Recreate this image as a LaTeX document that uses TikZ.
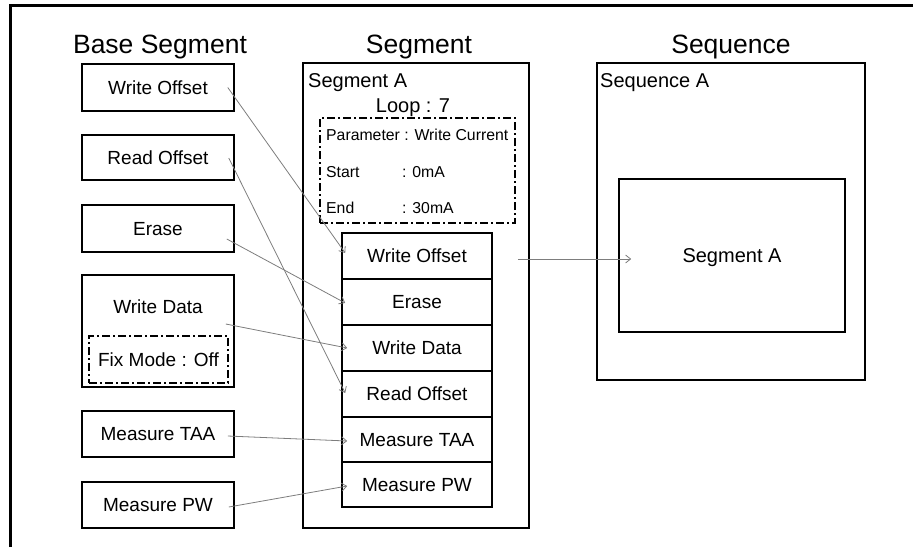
\documentclass[tikz,border=0pt]{standalone}
\usepackage{fontspec}
\setmainfont{Liberation Sans}
\usetikzlibrary{arrows.meta,calc}
\newcommand\fsz[1]{\fontsize{#1}{#1}\selectfont}
\definecolor{arrgray}{RGB}{125,125,125}
\begin{document}
\begin{tikzpicture}[x=1pt,y=-1pt,
  every node/.style={inner sep=0pt,text depth=0pt},
  title/.style={font=\fsz{26.5},text height=19pt},
  box/.style={draw,line width=1.6pt,font=\fsz{19},text height=13.6pt},
  lbl/.style={font=\fsz{19},text height=13.6pt},
  big/.style={font=\fsz{20},text height=14.3pt},
  small/.style={font=\fsz{15.8},text height=11.3pt},
  dd/.style={draw,line width=1.6pt,dash pattern=on 8pt off 3pt on 2pt off 3pt,font=\fsz{19},text height=13.6pt},
  arr/.style={draw=arrgray,line width=0.8pt,-{Straight Barb[length=5pt,width=8pt]}}
]
\useasboundingbox (0,0) rectangle (913,547);
\draw[line width=3pt] (10.5,547) -- (10.5,5) -- (913,5);

% titles
\node[title] (tBase) at (160,44) {Base Segment};
\node[title] (tSeg) at (419,44) {Segment};
\node[title] (tSeq) at (731,44) {Sequence};

% base segment column
\node[box,minimum width=152pt,minimum height=47pt] (bWO) at (158,87.5) {Write Offset};
\node[box,minimum width=152pt,minimum height=45pt] (bRO) at (158,157.5) {Read Offset};
\node[box,minimum width=152pt,minimum height=47pt] (bER) at (158,228.5) {Erase};
\node[box,minimum width=152pt,minimum height=112pt] (bWD) at (158,331) {};
\node[lbl] (bWDt) at (158,307) {Write Data};
\node[dd,minimum width=139pt,minimum height=47pt] (bFix) at (158.5,359.5) {Fix Mode : Off};
\node[box,minimum width=152pt,minimum height=46pt] (bTAA) at (158,434) {Measure TAA};
\node[box,minimum width=152pt,minimum height=46pt] (bPW) at (158,505) {Measure PW};

% segment column
\node[box,minimum width=226pt,minimum height=465pt] (seg) at (416,295.5) {};
\node[big,anchor=west] (segA) at (308,80) {Segment A};
\node[big] (loop) at (413,105) {Loop : 7};
\node[dd,minimum width=195pt,minimum height=105pt] (par) at (417.5,170.5) {};
\node[small,anchor=west] (pParam) at (326,135) {Parameter : Write Current};
\node[small,anchor=west] (pStart) at (326,172) {Start};
\node[small,anchor=west] (pStartV) at (402,172) {: 0mA};
\node[small,anchor=west] (pEnd) at (326,208) {End};
\node[small,anchor=west] (pEndV) at (402,208) {: 30mA};

\node[box,minimum width=150pt,minimum height=46pt] (sWO) at (417,256) {Write Offset};
\node[box,minimum width=150pt,minimum height=46pt] (sER) at (417,302) {Erase};
\node[box,minimum width=150pt,minimum height=46pt] (sWD) at (417,348) {Write Data};
\node[box,minimum width=150pt,minimum height=46pt] (sRO) at (417,394) {Read Offset};
\node[box,minimum width=150pt,minimum height=45pt] (sTAA) at (417,439.5) {Measure TAA};
\node[box,minimum width=150pt,minimum height=45pt] (sPW) at (417,484.5) {Measure PW};

% sequence column
\node[box,minimum width=268pt,minimum height=317pt] (seq) at (731,221.5) {};
\node[big,anchor=west] (seqA) at (600,80) {Sequence A};
\node[box,big,minimum width=226pt,minimum height=153pt] (seqIn) at (732,255.5) {Segment A};

% connectors
\draw[arr] ($(bWO.east)+(-7,0)$) -- ($(sWO.west)+(4,-3)$);
\draw[arr] ($(bRO.east)+(-6,0.5)$) -- ($(sRO.west)+(4,-1)$);
\draw[arr] ($(bER.east)+(-8,10.5)$) -- ($(sER.west)+(4,1)$);
\draw[arr] ($(bWD.east)+(-9,-7)$) -- ($(sWD.west)+(6,0)$);
\draw[arr] ($(bTAA.east)+(-7,2)$) -- ($(sTAA.west)+(6,1.5)$);
\draw[arr] ($(bPW.east)+(-6,2)$) -- ($(sPW.west)+(6,1.5)$);
\draw[arr] ($(sWO.east)+(25,3)$) -- ($(seqIn.west)+(13,3.5)$);
\end{tikzpicture}
\end{document}
